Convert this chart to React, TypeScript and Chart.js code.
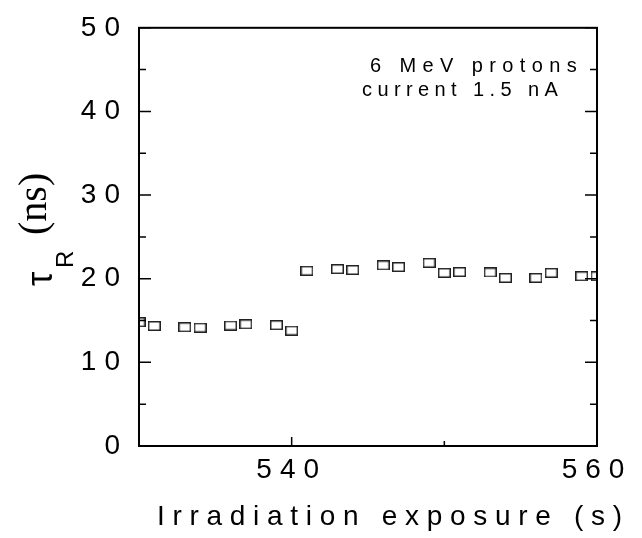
import React, { useEffect, useRef } from "react";
import { Chart, registerables } from "chart.js";

Chart.register(...registerables);

// Recovery time versus irradiation exposure
const exposureSec = [
  530, 531, 533, 534, 536, 537, 539, 540,
  541, 543, 544, 546, 547, 549, 550, 551, 553, 554, 556, 557, 559, 560,
];
const tauNs = [
  14.8, 14.35, 14.2, 14.15, 14.4, 14.55, 14.45, 13.8,
  20.95, 21.15, 21.05, 21.6, 21.4, 21.9, 20.7, 20.8, 20.75, 20.1, 20.1, 20.7, 20.3, 20.3,
];

const xMajorTicks = [540, 560];
const xMinorTicks = [530, 550];
const yMajorTicks = [0, 10, 20, 30, 40, 50];
const yMinorTicks = [5, 15, 25, 35, 45];

const noteLines = ["6 MeV protons", "current 1.5 nA"];
const xTitle = "Irradiation exposure (s)";
const yTitleSymbol = "τ";
const yTitleSub = "R";
const yTitleUnit = "(ns)";

const SANS = "'Liberation Sans', Arial, Helvetica, sans-serif";
const SERIF = "'Liberation Serif', 'Times New Roman', serif";

function makeMarker(): HTMLCanvasElement {
  const c = document.createElement("canvas");
  c.width = 13;
  c.height = 10;
  const g = c.getContext("2d")!;
  g.strokeStyle = "#222";
  g.lineWidth = 1.5;
  g.strokeRect(0.75, 0.75, 11.5, 8.5);
  return c;
}

const spacingPlugin = {
  id: "tickSpacing",
  beforeDraw(chart: any) {
    (chart.ctx as any).letterSpacing = "8px";
  },
};

const framePlugin = {
  id: "frameAndNotes",
  afterDatasetsDraw(chart: any) {
    const { ctx, chartArea: a, scales } = chart;
    const xs = scales.x;
    const ys = scales.y;
    ctx.save();
    ctx.strokeStyle = "#000";
    ctx.lineWidth = 2;
    ctx.strokeRect(a.left, a.top, a.right - a.left, a.bottom - a.top);

    ctx.lineWidth = 1.5;
    ctx.beginPath();
    const yTick = (v: number, len: number) => {
      const p = ys.getPixelForValue(v);
      ctx.moveTo(a.left, p);
      ctx.lineTo(a.left + len, p);
      ctx.moveTo(a.right, p);
      ctx.lineTo(a.right - len, p);
    };
    yMajorTicks.forEach((v) => yTick(v, 12));
    yMinorTicks.forEach((v) => yTick(v, 7));
    const xTick = (v: number, len: number) => {
      const p = xs.getPixelForValue(v);
      ctx.moveTo(p, a.bottom);
      ctx.lineTo(p, a.bottom - len);
    };
    xMajorTicks.forEach((v) => xTick(v, 9));
    xMinorTicks.forEach((v) => xTick(v, 5));
    ctx.stroke();

    ctx.fillStyle = "#000";
    ctx.textAlign = "left";
    ctx.textBaseline = "alphabetic";

    // annotation
    ctx.font = `20px ${SANS}`;
    ctx.letterSpacing = "6.4px";
    ctx.fillText(noteLines[0], 370, 72);
    ctx.letterSpacing = "5.4px";
    ctx.fillText(noteLines[1], 362, 96);

    // x axis title
    ctx.font = `28px ${SANS}`;
    ctx.letterSpacing = "7.7px";
    ctx.fillText(xTitle, 157, 525);

    // y axis title, rotated to read upwards
    ctx.letterSpacing = "0px";
    ctx.translate(0, 288);
    ctx.rotate(-Math.PI / 2);
    ctx.font = `36px ${SANS}`;
    ctx.fillText(yTitleSymbol, 2, 52);
    ctx.font = `24px ${SANS}`;
    ctx.fillText(yTitleSub, 20, 73);
    ctx.font = `40px ${SERIF}`;
    ctx.fillText(yTitleUnit, 53, 46);
    ctx.restore();
  },
};

export default function App() {
  const ref = useRef<HTMLCanvasElement | null>(null);

  useEffect(() => {
    if (!ref.current) return;
    const marker = makeMarker();
    const chart = new Chart(ref.current, {
      type: "scatter",
      data: {
        datasets: [
          {
            data: exposureSec.map((x, i) => ({ x, y: tauNs[i] })),
            pointStyle: marker as any,
            pointRadius: 6,
            clip: 0 as any,
          },
        ],
      },
      options: {
        responsive: false,
        animation: false,
        events: [],
        layout: { padding: { top: 22, right: 45, left: 0, bottom: 0 } },
        plugins: {
          legend: { display: false },
          tooltip: { enabled: false },
        },
        scales: {
          x: {
            type: "linear",
            min: 530,
            max: 560,
            grid: { display: false, drawTicks: false },
            border: { display: false },
            afterBuildTicks: (s: any) => {
              s.ticks = xMajorTicks.map((value) => ({ value }));
            },
            afterFit: (s: any) => {
              s.height = 92;
            },
            ticks: {
              padding: 7,
              color: "#000",
              font: { family: SANS, size: 28 },
              maxRotation: 0,
              autoSkip: false,
              callback: (v: any) => String(v),
            },
          },
          y: {
            type: "linear",
            min: 0,
            max: 50,
            grid: { display: false, drawTicks: false },
            border: { display: false },
            afterBuildTicks: (s: any) => {
              s.ticks = yMajorTicks.map((value) => ({ value }));
            },
            afterFit: (s: any) => {
              s.width = 139;
            },
            ticks: {
              padding: 11,
              color: "#000",
              font: { family: SANS, size: 28 },
              autoSkip: false,
              callback: (v: any) => String(v),
            },
          },
        },
      },
      plugins: [spacingPlugin, framePlugin],
    });
    return () => chart.destroy();
  }, []);

  return (
    <div style={{ position: "fixed", left: 0, top: 0, width: 642, height: 538, background: "#fff" }}>
      <canvas ref={ref} width={642} height={538} style={{ display: "block" }} />
    </div>
  );
}
